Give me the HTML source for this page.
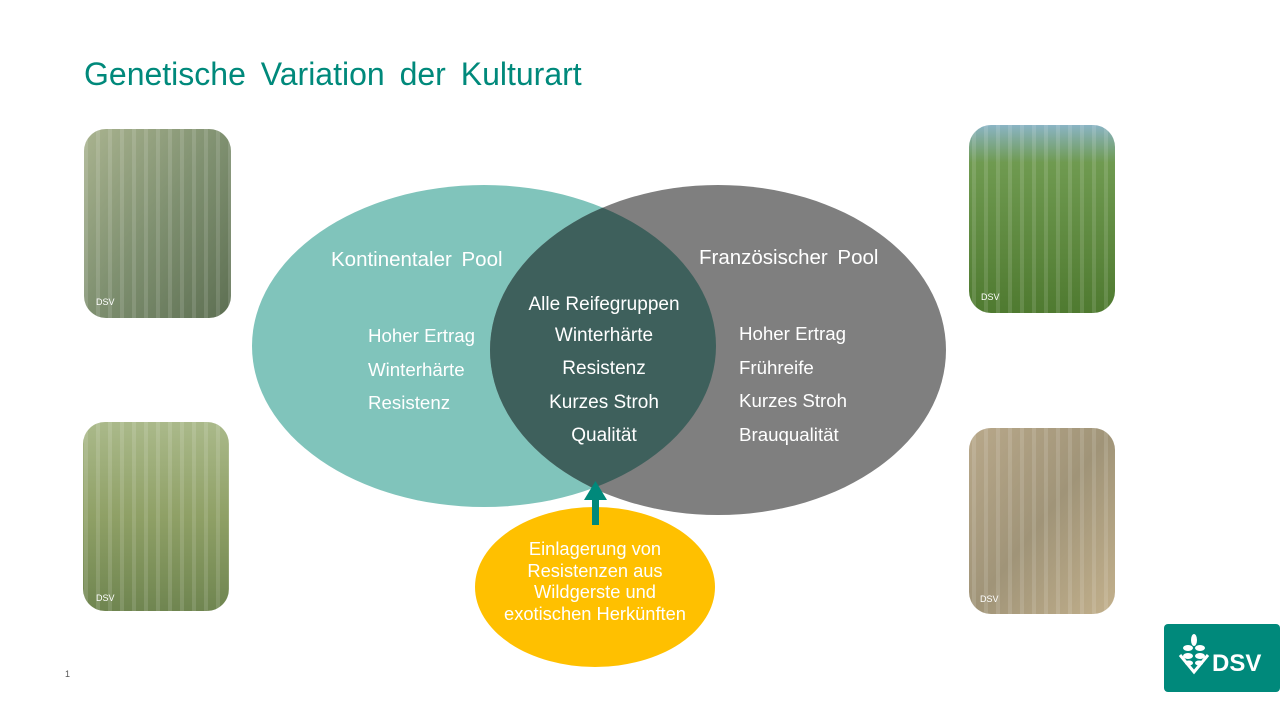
<!DOCTYPE html>
<html><head><meta charset="utf-8"><style>
html,body{margin:0;padding:0;background:#fff;}
body{width:1280px;height:720px;overflow:hidden;font-family:"Liberation Sans",sans-serif;}
</style></head><body>
<svg width="1280" height="720" viewBox="0 0 1280 720" xmlns="http://www.w3.org/2000/svg" font-family="Liberation Sans, sans-serif">
<defs>
<clipPath id="cl"><ellipse cx="484" cy="346" rx="232" ry="161"/></clipPath>
<linearGradient id="p1" x1="0" y1="0" x2="1" y2="1"><stop offset="0" stop-color="#a9b38f"/><stop offset="0.5" stop-color="#7f9070"/><stop offset="1" stop-color="#5d6f52"/></linearGradient>
<linearGradient id="p2" x1="0" y1="0" x2="0" y2="1"><stop offset="0" stop-color="#aab98a"/><stop offset="0.5" stop-color="#8fa066"/><stop offset="1" stop-color="#6f8550"/></linearGradient>
<linearGradient id="p3" x1="0" y1="0" x2="0" y2="1"><stop offset="0" stop-color="#8ab4c4"/><stop offset="0.2" stop-color="#6f9a50"/><stop offset="1" stop-color="#4f7a30"/></linearGradient>
<linearGradient id="p4" x1="0" y1="0" x2="1" y2="1"><stop offset="0" stop-color="#b8a88a"/><stop offset="0.5" stop-color="#a09478"/><stop offset="1" stop-color="#c2b08c"/></linearGradient>
<pattern id="st" width="12" height="40" patternUnits="userSpaceOnUse"><rect width="4" height="40" fill="#ffffff" opacity="0.12"/></pattern>
</defs>
<text x="84" y="85" font-size="32" fill="#00897b" word-spacing="6">Genetische Variation der Kulturart</text>

<rect x="84" y="129" width="147" height="189" rx="22" fill="url(#p1)"/>
<rect x="84" y="129" width="147" height="189" rx="22" fill="url(#st)"/>
<rect x="83" y="422" width="146" height="189" rx="22" fill="url(#p2)"/>
<rect x="83" y="422" width="146" height="189" rx="22" fill="url(#st)"/>
<rect x="969" y="125" width="146" height="188" rx="22" fill="url(#p3)"/>
<rect x="969" y="125" width="146" height="188" rx="22" fill="url(#st)"/>
<rect x="969" y="428" width="146" height="186" rx="22" fill="url(#p4)"/>
<rect x="969" y="428" width="146" height="186" rx="22" fill="url(#st)"/>
<g font-size="9" fill="#fff"><text x="96" y="305">DSV</text><text x="96" y="601">DSV</text><text x="981" y="300">DSV</text><text x="980" y="602">DSV</text></g>

<ellipse cx="484" cy="346" rx="232" ry="161" fill="#80c4bb"/>
<ellipse cx="718" cy="350" rx="228" ry="165" fill="#7f7f7f"/>
<ellipse cx="718" cy="350" rx="228" ry="165" fill="#3e605c" clip-path="url(#cl)"/>

<g fill="#fff" font-size="20.5" word-spacing="4">
<text x="331" y="266">Kontinentaler Pool</text>
<text x="699" y="264">Französischer Pool</text>
</g>
<g fill="#fff" font-size="18.7">
<text x="368" y="342">Hoher Ertrag</text>
<text x="368" y="376">Winterhärte</text>
<text x="368" y="409">Resistenz</text>
<text x="739" y="340">Hoher Ertrag</text>
<text x="739" y="374">Frühreife</text>
<text x="739" y="407">Kurzes Stroh</text>
<text x="739" y="441">Brauqualität</text>
</g>
<g fill="#fff" font-size="19" text-anchor="middle">
<text x="604" y="310">Alle Reifegruppen</text>
<text x="604" y="341">Winterhärte</text>
<text x="604" y="374">Resistenz</text>
<text x="604" y="408">Kurzes Stroh</text>
<text x="604" y="441">Qualität</text>
</g>

<ellipse cx="595" cy="587" rx="120" ry="80" fill="#ffc000"/>
<rect x="592" y="498" width="7" height="27" fill="#00897b"/>
<polygon points="595.5,481 584,500 607,500" fill="#00897b"/>
<g fill="#fff" font-size="18.3" text-anchor="middle">
<text x="595" y="555">Einlagerung von</text>
<text x="595" y="577">Resistenzen aus</text>
<text x="595" y="598">Wildgerste und</text>
<text x="595" y="620">exotischen Herkünften</text>
</g>

<text x="65" y="677" font-size="9" fill="#555">1</text>

<rect x="1164" y="624" width="116" height="68" rx="4" fill="#00897b"/>
<g fill="none" stroke="#fff" stroke-width="3"><polyline points="1180,655 1194,672 1208,655"/></g>
<g fill="#fff">
<ellipse cx="1194" cy="640" rx="3" ry="6"/>
<ellipse cx="1188" cy="648" rx="5" ry="3"/><ellipse cx="1200" cy="648" rx="5" ry="3"/>
<ellipse cx="1188" cy="656" rx="5" ry="3"/><ellipse cx="1200" cy="656" rx="5" ry="3"/>
<ellipse cx="1189" cy="663" rx="4" ry="2.5"/><ellipse cx="1199" cy="663" rx="4" ry="2.5"/>
</g>
<text x="1212" y="671" font-size="24" font-weight="bold" fill="#fff">DSV</text>
</svg>
</body></html>
